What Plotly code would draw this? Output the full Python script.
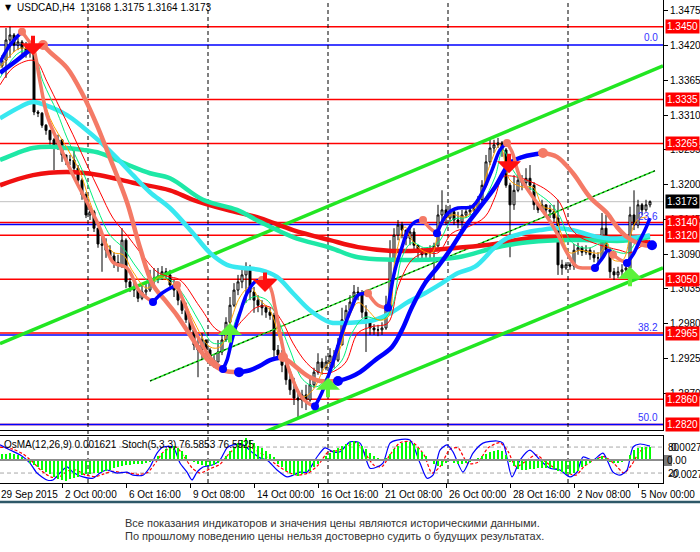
import plotly.graph_objects as go

W, H = 700, 552
PLOT_R = 663  # right edge of the chart panels, px


def px(x):
    return x / W


def py(y):
    return 1 - y / H


# ---- H4 candles (bar index, OHLC) ----
bars = list(range(1, 164))
opens = [1.3388, 1.3397, 1.3429, 1.3437, 1.3421, 1.3426, 1.3416, 1.3410, 1.3413, 1.3315,
         1.3313, 1.3294, 1.3286, 1.3271, 1.3258, 1.3271, 1.3247, 1.3239, 1.3239, 1.3226,
         1.3207, 1.3184, 1.3152, 1.3157, 1.3131, 1.3106, 1.3104, 1.3096, 1.3087, 1.3077,
         1.3073, 1.3112, 1.3046, 1.3038, 1.3033, 1.3020, 1.3030, 1.3033, 1.3049, 1.3052,
         1.3055, 1.3062, 1.3057, 1.3041, 1.3033, 1.3017, 1.3001, 1.2986, 1.2970, 1.2946,
         1.2938, 1.2954, 1.2938, 1.2922, 1.2919, 1.2935, 1.2954, 1.2982, 1.3009, 1.3033,
         1.3046, 1.3057, 1.3068, 1.3030, 1.3017, 1.3009, 1.3005, 1.2998, 1.2993, 1.2938,
         1.2930, 1.2914, 1.2891, 1.2875, 1.2862, 1.2859, 1.2867, 1.2859, 1.2883, 1.2903,
         1.2919, 1.2910, 1.2919, 1.2929, 1.2922, 1.2946, 1.2986, 1.3001, 1.3014, 1.3030,
         1.3028, 1.2998, 1.2982, 1.2973, 1.2970, 1.2970, 1.2973, 1.3009, 1.3081, 1.3120,
         1.3136, 1.3128, 1.3115, 1.3125, 1.3104, 1.3093, 1.3089, 1.3092, 1.3096, 1.3103,
         1.3152, 1.3160, 1.3147, 1.3157, 1.3144, 1.3141, 1.3152, 1.3157, 1.3160, 1.3163,
         1.3176, 1.3199, 1.3236, 1.3258, 1.3263, 1.3266, 1.3255, 1.3199, 1.3168, 1.3191,
         1.3207, 1.3203, 1.3210, 1.3199, 1.3168, 1.3160, 1.3168, 1.3160, 1.3157, 1.3147,
         1.3073, 1.3068, 1.3073, 1.3071, 1.3096, 1.3100, 1.3093, 1.3096, 1.3089, 1.3084,
         1.3084, 1.3131, 1.3096, 1.3062, 1.3057, 1.3062, 1.3065, 1.3068, 1.3152, 1.3136,
         1.3168, 1.3160, 1.3168]
highs = [1.3405, 1.3448, 1.3450, 1.3440, 1.3432, 1.3429, 1.3426, 1.3421, 1.3416, 1.3318,
         1.3315, 1.3296, 1.3286, 1.3274, 1.3279, 1.3271, 1.3247, 1.3247, 1.3255, 1.3231,
         1.3210, 1.3188, 1.3163, 1.3160, 1.3131, 1.3120, 1.3115, 1.3104, 1.3093, 1.3089,
         1.3131, 1.3115, 1.3052, 1.3046, 1.3041, 1.3041, 1.3044, 1.3065, 1.3068, 1.3068,
         1.3071, 1.3068, 1.3065, 1.3049, 1.3036, 1.3025, 1.3013, 1.2990, 1.2970, 1.2957,
         1.2965, 1.2954, 1.2941, 1.2930, 1.2954, 1.2962, 1.2990, 1.3022, 1.3044, 1.3057,
         1.3068, 1.3077, 1.3073, 1.3038, 1.3025, 1.3017, 1.3009, 1.3005, 1.2997, 1.2946,
         1.2938, 1.2922, 1.2906, 1.2894, 1.2875, 1.2875, 1.2883, 1.2894, 1.2910, 1.2933,
         1.2925, 1.2929, 1.2941, 1.2938, 1.2957, 1.3005, 1.3009, 1.3025, 1.3041, 1.3038,
         1.3033, 1.3009, 1.2986, 1.2979, 1.2978, 1.2982, 1.3024, 1.3112, 1.3131, 1.3144,
         1.3141, 1.3128, 1.3136, 1.3131, 1.3104, 1.3100, 1.3100, 1.3104, 1.3108, 1.3168,
         1.3191, 1.3168, 1.3168, 1.3160, 1.3157, 1.3160, 1.3165, 1.3168, 1.3171, 1.3182,
         1.3207, 1.3247, 1.3271, 1.3271, 1.3274, 1.3269, 1.3258, 1.3203, 1.3215, 1.3223,
         1.3215, 1.3226, 1.3231, 1.3204, 1.3171, 1.3176, 1.3168, 1.3168, 1.3168, 1.3176,
         1.3081, 1.3077, 1.3077, 1.3106, 1.3108, 1.3103, 1.3104, 1.3100, 1.3096, 1.3093,
         1.3155, 1.3152, 1.3100, 1.3068, 1.3070, 1.3074, 1.3077, 1.3165, 1.3191, 1.3176,
         1.3171, 1.3176, 1.3175]
lows = [1.3385, 1.3369, 1.3401, 1.3410, 1.3413, 1.3405, 1.3401, 1.3401, 1.3310, 1.3307,
        1.3290, 1.3279, 1.3263, 1.3223, 1.3255, 1.3236, 1.3231, 1.3231, 1.3220, 1.3199,
        1.3176, 1.3147, 1.3144, 1.3125, 1.3100, 1.3062, 1.3084, 1.3081, 1.3068, 1.3062,
        1.3068, 1.3036, 1.3030, 1.3022, 1.3014, 1.3017, 1.3024, 1.3030, 1.3041, 1.3044,
        1.3049, 1.3049, 1.3033, 1.3022, 1.3009, 1.2995, 1.2981, 1.2962, 1.2938, 1.2895,
        1.2922, 1.2927, 1.2913, 1.2910, 1.2919, 1.2930, 1.2951, 1.2978, 1.3006, 1.3025,
        1.3036, 1.3013, 1.3017, 1.2997, 1.2998, 1.2993, 1.2989, 1.2986, 1.2927, 1.2922,
        1.2903, 1.2883, 1.2867, 1.2851, 1.2830, 1.2846, 1.2843, 1.2856, 1.2878, 1.2899,
        1.2899, 1.2906, 1.2911, 1.2910, 1.2919, 1.2946, 1.2978, 1.2998, 1.3009, 1.3017,
        1.2989, 1.2935, 1.2962, 1.2962, 1.2960, 1.2962, 1.2970, 1.3005, 1.3077, 1.3112,
        1.3115, 1.3104, 1.3104, 1.3096, 1.3084, 1.3081, 1.3084, 1.3081, 1.3049, 1.3100,
        1.3136, 1.3136, 1.3141, 1.3136, 1.3131, 1.3131, 1.3147, 1.3152, 1.3155, 1.3160,
        1.3172, 1.3196, 1.3231, 1.3250, 1.3258, 1.3244, 1.3195, 1.3085, 1.3160, 1.3188,
        1.3191, 1.3195, 1.3191, 1.3160, 1.3155, 1.3157, 1.3152, 1.3147, 1.3141, 1.3057,
        1.3057, 1.3065, 1.3065, 1.3065, 1.3089, 1.3087, 1.3089, 1.3081, 1.3077, 1.3077,
        1.3081, 1.3092, 1.3052, 1.3049, 1.3052, 1.3054, 1.3057, 1.3065, 1.3128, 1.3131,
        1.3152, 1.3157, 1.3164]
closes = [1.3397, 1.3429, 1.3437, 1.3421, 1.3426, 1.3416, 1.3410, 1.3413, 1.3315, 1.3313,
          1.3294, 1.3286, 1.3271, 1.3258, 1.3271, 1.3247, 1.3239, 1.3239, 1.3226, 1.3207,
          1.3184, 1.3152, 1.3157, 1.3131, 1.3106, 1.3104, 1.3096, 1.3087, 1.3077, 1.3073,
          1.3112, 1.3046, 1.3038, 1.3033, 1.3020, 1.3030, 1.3033, 1.3049, 1.3052, 1.3055,
          1.3062, 1.3057, 1.3041, 1.3033, 1.3017, 1.3001, 1.2986, 1.2970, 1.2946, 1.2938,
          1.2954, 1.2938, 1.2922, 1.2919, 1.2935, 1.2954, 1.2982, 1.3009, 1.3033, 1.3046,
          1.3057, 1.3068, 1.3030, 1.3017, 1.3009, 1.3005, 1.2998, 1.2993, 1.2938, 1.2930,
          1.2914, 1.2891, 1.2875, 1.2862, 1.2859, 1.2867, 1.2859, 1.2883, 1.2903, 1.2919,
          1.2910, 1.2919, 1.2929, 1.2922, 1.2946, 1.2986, 1.3001, 1.3014, 1.3030, 1.3028,
          1.2998, 1.2982, 1.2973, 1.2970, 1.2970, 1.2973, 1.3009, 1.3081, 1.3120, 1.3136,
          1.3128, 1.3115, 1.3125, 1.3104, 1.3093, 1.3089, 1.3092, 1.3096, 1.3103, 1.3152,
          1.3160, 1.3147, 1.3157, 1.3144, 1.3141, 1.3152, 1.3157, 1.3160, 1.3163, 1.3176,
          1.3199, 1.3236, 1.3258, 1.3263, 1.3266, 1.3255, 1.3199, 1.3168, 1.3191, 1.3207,
          1.3203, 1.3210, 1.3199, 1.3168, 1.3160, 1.3168, 1.3160, 1.3157, 1.3147, 1.3073,
          1.3068, 1.3073, 1.3071, 1.3096, 1.3100, 1.3093, 1.3096, 1.3089, 1.3084, 1.3084,
          1.3131, 1.3096, 1.3062, 1.3057, 1.3062, 1.3065, 1.3068, 1.3152, 1.3136, 1.3168,
          1.3160, 1.3168, 1.3173]

# ---- moving averages ----
ma_red_x = [0.5, 8.75, 17.25, 25.5, 33.75, 43, 48.75, 57.25, 65.5, 73.75, 83, 90, 98.5,
            106.75, 115, 124.25, 131.25, 139.75, 148, 156.25, 163]
ma_red_y = [1.3199, 1.3215, 1.3220, 1.3215, 1.3203, 1.3191, 1.3176, 1.3160, 1.3147, 1.3128,
            1.3112, 1.3101, 1.3095, 1.3096, 1.3100, 1.3106, 1.3114, 1.3117, 1.3117, 1.3114, 1.3108]

ma_cyan_x = [0.5, 5.5, 8.75, 13, 17.25, 21.25, 25.5, 29.75, 33.75, 38, 43, 48.75, 53, 57.25,
             61.25, 65.5, 69.75, 73.75, 78, 83, 86, 90, 94.25, 98.5, 102.5, 106.75, 111, 115,
             119.25, 124.25, 127.25, 131.25, 135.5, 139.75, 143.75, 148, 152.25, 156.25, 160.5, 163]
ma_cyan_y = [1.3305, 1.3323, 1.3331, 1.3323, 1.3310, 1.3291, 1.3268, 1.3242, 1.3215, 1.3188,
             1.3163, 1.3123, 1.3092, 1.3073, 1.3068, 1.3065, 1.3054, 1.3028, 1.3001, 1.2982,
             1.2981, 1.2982, 1.2986, 1.2998, 1.3014, 1.3028, 1.3044, 1.3060, 1.3070, 1.3101,
             1.3115, 1.3123, 1.3128, 1.3131, 1.3128, 1.3120, 1.3115, 1.3115, 1.3117, 1.3120]

ma_teal_x = [0.5, 4.75, 8.75, 13, 17.25, 21.25, 25.5, 29.75, 33.75, 38, 43, 51.25, 59.75,
             65.5, 73.75, 83, 90, 98.5, 106.75, 115, 124.25, 131.25, 139.75, 148, 156.25, 163]
ma_teal_y = [1.3239, 1.3250, 1.3258, 1.3260, 1.3258, 1.3255, 1.3250, 1.3239, 1.3228, 1.3218,
             1.3210, 1.3176, 1.3160, 1.3141, 1.3117, 1.3100, 1.3085, 1.3081, 1.3081, 1.3085,
             1.3100, 1.3108, 1.3112, 1.3112, 1.3111, 1.3117]

orange_x = [0.5, 5.5, 8.75, 10.5, 13, 17.25, 20.5, 23, 25.5, 28.75, 31.25, 33.75, 37.25, 40.5,
            45.5, 48.75, 53, 55.5, 58, 60.5, 63, 65.5, 68, 70.5, 73.75, 76.25, 78.75, 81.75, 85,
            87.5, 90, 92.5, 95, 97.5, 99.25, 101.75, 103.5, 106, 108.5, 110.5, 113.5, 116.75,
            120, 122.5, 125.5, 128, 131.25, 133.75, 136.25, 138.75, 140.5, 143, 145.5, 148,
            150.5, 152.25, 153.75, 156.25, 158, 159.75, 162.25]
orange_y = [1.3385, 1.3416, 1.3408, 1.3363, 1.3305, 1.3258, 1.3220, 1.3172, 1.3131, 1.3093,
            1.3089, 1.3062, 1.3036, 1.3054, 1.3028, 1.2986, 1.2943, 1.2943, 1.2981, 1.3022,
            1.3038, 1.3017, 1.3001, 1.2954, 1.2895, 1.2864, 1.2875, 1.2911, 1.2933, 1.2986,
            1.3013, 1.3001, 1.2986, 1.2990, 1.3081, 1.3133, 1.3112, 1.3096, 1.3092, 1.3133,
            1.3152, 1.3149, 1.3171, 1.3223, 1.3263, 1.3207, 1.3196, 1.3196, 1.3165, 1.3160,
            1.3128, 1.3092, 1.3096, 1.3093, 1.3092, 1.3108, 1.3081, 1.3081, 1.3117, 1.3144, 1.3149]

green_x = [0.5, 5.5, 8.75, 11.25, 14.75, 17.25, 21.25, 24.75, 28, 31.25, 34.75, 38, 42.25,
           45.5, 50.5, 53.75, 57.25, 60.5, 63.75, 67.25, 69.75, 73, 76.25, 79.75, 83, 86, 88.5,
           91.75, 96, 98.5, 101, 103.5, 106.75, 110, 113.5, 117.5, 121, 124.25, 126.25, 128.75,
           131.25, 134.75, 138, 140.5, 143, 145.5, 148, 151.25, 153.75, 157.25, 159.75, 162.25]
green_y = [1.3369, 1.3410, 1.3408, 1.3363, 1.3315, 1.3274, 1.3220, 1.3163, 1.3120, 1.3100,
           1.3068, 1.3046, 1.3052, 1.3033, 1.2981, 1.2949, 1.2954, 1.3001, 1.3022, 1.3017,
           1.2990, 1.2938, 1.2891, 1.2880, 1.2902, 1.2922, 1.2965, 1.2990, 1.2986, 1.3006,
           1.3085, 1.3108, 1.3100, 1.3108, 1.3144, 1.3149, 1.3171, 1.3212, 1.3255, 1.3223,
           1.3203, 1.3187, 1.3171, 1.3149, 1.3112, 1.3101, 1.3100, 1.3108, 1.3096, 1.3092,
           1.3112, 1.3133]

redthin_x = [0.5, 3.75, 8, 9.75, 12.25, 15.5, 18.75, 22.25, 25.5, 28.75, 32.25, 35.5, 39.75,
             42.25, 45.5, 50.5, 54.75, 58, 61.25, 64.75, 68, 71.25, 73.75, 77.25, 80.5, 83,
             86.75, 90, 93.5, 97.5, 100, 103.5, 106.75, 110, 113.5, 117.5, 121.75, 124.25,
             126.25, 129.75, 133.75, 137.25, 140.5, 143, 145.5, 148.75, 152.25, 155.5, 158,
             160.5, 163]
redthin_y = [1.3358, 1.3385, 1.3397, 1.3394, 1.3363, 1.3321, 1.3279, 1.3231, 1.3188, 1.3147,
             1.3120, 1.3093, 1.3062, 1.3055, 1.3049, 1.3006, 1.2970, 1.2965, 1.2986, 1.3006,
             1.3006, 1.2981, 1.2949, 1.2917, 1.2902, 1.2902, 1.2917, 1.2965, 1.2975, 1.2981,
             1.3038, 1.3081, 1.3092, 1.3092, 1.3123, 1.3133, 1.3149, 1.3180, 1.3212, 1.3212,
             1.3203, 1.3191, 1.3171, 1.3133, 1.3117, 1.3108, 1.3101, 1.3096, 1.3092, 1.3101, 1.3112]

# two-colour trend lines: (trend, bars, prices)
fast_segments = [
    ("up", [0.5, 3, 6], [1.3394, 1.3421, 1.3442]),
    ("down", [6, 7.5, 8.75, 10.5, 12.25, 14.75, 18.75, 22.25, 25.5, 28.75, 32.25, 35.5, 38.75],
     [1.3442, 1.3429, 1.3418, 1.3363, 1.3310, 1.3271, 1.3215, 1.3172, 1.3131, 1.3077, 1.3068, 1.3030, 1.3014]),
    ("up", [38.75, 41, 43, 44.75], [1.3014, 1.3028, 1.3036, 1.3041]),
    ("down", [44.75, 46.75, 48.75, 53, 56.25], [1.3041, 1.3009, 1.2975, 1.2927, 1.2908]),
    ("up", [56.25, 57.25, 58.5, 60.5, 62.25, 64.25, 66], [1.2908, 1.2922, 1.2954, 1.2997, 1.3028, 1.3046, 1.3049]),
    ("down", [66, 68, 69.25, 70.5, 71.75, 73.5, 75.5, 77.5, 79.25],
     [1.3049, 1.3038, 1.3006, 1.2965, 1.2927, 1.2894, 1.2867, 1.2854, 1.2849]),
    ("up", [79.25, 80.5, 81.75, 83.5, 86, 88.5, 90, 92.5], [1.2849, 1.2864, 1.2883, 1.2914, 1.2965, 1.3006, 1.3025, 1.3028]),
    ("down", [92.5, 95, 97.5], [1.3028, 1.3009, 1.3005]),
    ("up", [97.5, 99.25, 101, 102.5, 104.25, 106.25], [1.3005, 1.3065, 1.3101, 1.3128, 1.3141, 1.3144]),
    ("down", [106.25, 108, 109.75], [1.3144, 1.3131, 1.3123]),
    ("up", [109.75, 112.5, 115, 118.5, 121, 123.5, 125.5, 127.25],
     [1.3123, 1.3155, 1.3163, 1.3165, 1.3187, 1.3223, 1.3255, 1.3266]),
    ("down", [127.25, 128.5, 130.5, 133.75, 137.25, 139.75, 142.25, 144.75, 148, 149.25],
     [1.3266, 1.3252, 1.3212, 1.3180, 1.3149, 1.3123, 1.3092, 1.3070, 1.3068, 1.3068]),
    ("up", [149.25, 151.25, 152.5, 153.75], [1.3068, 1.3085, 1.3096, 1.3089]),
    ("down", [153.75, 155.5, 157.25], [1.3089, 1.3081, 1.3076]),
    ("up", [157.25, 158.75, 160.5, 161.75, 163], [1.3076, 1.3089, 1.3112, 1.3128, 1.3147]),
]
slow_segments = [
    ("up", [0.5, 4.75, 8.75, 11.25], [1.3377, 1.3397, 1.3416, 1.3421]),
    ("down", [11.25, 13, 17.25, 21.25, 24.75, 28, 32.25, 35.5, 38.75, 41.75, 44.75, 48, 50.5, 53, 56.25, 60.25],
     [1.3421, 1.3410, 1.3385, 1.3342, 1.3294, 1.3242, 1.3172, 1.3100, 1.3041, 1.3017, 1.2993,
      1.2962, 1.2938, 1.2919, 1.2906, 1.2903]),
    ("up", [60.25, 63, 65.5, 68, 71.25], [1.2903, 1.2906, 1.2913, 1.2922, 1.2927]),
    ("down", [71.25, 73, 75.5, 78, 80.5, 85], [1.2927, 1.2919, 1.2906, 1.2895, 1.2889, 1.2889]),
    ("up", [85, 88, 90.5, 94.25, 98.5, 101, 103.5, 106.75, 110, 113.5, 116.75, 120, 124.25, 128,
            131.25, 134.25, 136.25],
     [1.2889, 1.2895, 1.2903, 1.2922, 1.2943, 1.2970, 1.3006, 1.3044, 1.3070, 1.3101, 1.3133,
      1.3160, 1.3196, 1.3234, 1.3244, 1.3248, 1.3250]),
    ("down", [136.25, 139.75, 143.75, 148, 152.25, 154.75, 157.25, 159.75, 161.75, 163.5],
     [1.3250, 1.3244, 1.3218, 1.3180, 1.3155, 1.3133, 1.3117, 1.3108, 1.3104, 1.3104]),
    ("up", [163.5], [1.3104]),
]

# signal arrows (tip position)
sell_x = [8.75, 66.75, 127.75]
sell_y = [1.3405, 1.3030, 1.3218]
buy_x = [58, 82.5, 158]
buy_y = [1.2981, 1.2894, 1.3070]

# channel (two anchor points each)
chan_upper_x, chan_upper_y = [0.5, 166.25], [1.2948, 1.3388]
chan_lower_x, chan_lower_y = [64.25, 166.25], [1.2802, 1.3068]
chan_mid_x, chan_mid_y = [38, 164.25], [1.2889, 1.3222]

# horizontal levels
red_levels = [1.3450, 1.3335, 1.3265, 1.3140, 1.3120, 1.3050, 1.2965, 1.2860, 1.2820]
fib_levels = [1.3421, 1.3137, 1.2962, 1.2820]
fib_labels = ["0.0", "23.6", "38.2", "50.0"]
last_price = 1.3173
ytick_vals = [1.2870, 1.2925, 1.2980, 1.3035, 1.3090, 1.3145, 1.3200, 1.3255, 1.3310, 1.3365, 1.3420, 1.3475]

# time axis
label_bars = [0.5, 16, 32, 48, 64, 80, 96, 112, 128, 144, 160]
label_text = ["29 Sep 2015", "2 Oct 00:00", "6 Oct 16:00", "9 Oct 08:00", "14 Oct 00:00",
              "16 Oct 16:00", "21 Oct 08:00", "26 Oct 00:00", "28 Oct 16:00", "2 Nov 08:00", "5 Nov 00:00"]
grid_bars = [22.5, 52.5, 82.5, 112.5, 142.5]

# ---- OsMA(12,26,9) histogram and Stoch(5,3,3) ----
osma = [0.0012, 0.0013, 0.0014, 0.0013, 0.0010, 0.0006, -0.0002, -0.0006, -0.0010, -0.0015,
        -0.0020, -0.0025, -0.0030, -0.0035, -0.0040, -0.0042, -0.0043, -0.0040, -0.0038, -0.0035,
        -0.0032, -0.0030, -0.0030, -0.0028, -0.0027, -0.0025, -0.0022, -0.0020, -0.0017, -0.0015,
        -0.0012, -0.0010, -0.0010, -0.0009, -0.0008, -0.0008, -0.0007, -0.0005, 0.0002, 0.0008,
        0.0015, 0.0022, 0.0028, 0.0030, 0.0025, 0.0018, 0.0010, 0.0002, -0.0005, -0.0008,
        -0.0010, -0.0012, -0.0012, -0.0010, -0.0006, 0.0000, 0.0008, 0.0018, 0.0028, 0.0036,
        0.0042, 0.0045, 0.0042, 0.0035, 0.0030, 0.0025, 0.0018, 0.0012, 0.0006, -0.0008,
        -0.0015, -0.0022, -0.0028, -0.0032, -0.0034, -0.0030, -0.0026, -0.0022, -0.0015, -0.0008,
        0.0002, 0.0008, 0.0014, 0.0020, 0.0025, 0.0030, 0.0034, 0.0038, 0.0040, 0.0038,
        0.0030, 0.0022, 0.0014, 0.0008, 0.0004, 0.0002, 0.0003, 0.0012, 0.0022, 0.0030,
        0.0036, 0.0038, 0.0038, 0.0033, 0.0025, 0.0016, 0.0008, 0.0000, -0.0008, -0.0012,
        -0.0012, -0.0006, -0.0002, -0.0006, -0.0008, -0.0008, -0.0006, -0.0004, -0.0002, 0.0003,
        0.0008, 0.0012, 0.0016, 0.0019, 0.0020, 0.0018, 0.0010, -0.0005, -0.0012, -0.0018,
        -0.0020, -0.0020, -0.0018, -0.0018, -0.0016, -0.0016, -0.0016, -0.0017, -0.0018, -0.0022,
        -0.0026, -0.0030, -0.0030, -0.0028, -0.0022, -0.0015, -0.0010, -0.0006, -0.0002, 0.0004,
        0.0008, 0.0004, -0.0003, -0.0006, -0.0006, -0.0004, 0.0000, 0.0010, 0.0020, 0.0026,
        0.0028, 0.0028, 0.0027]

stoch_x = [0.5, 3, 5.5, 8, 9.75, 12.25, 13.75, 15.5, 17.25, 18.75, 21.25, 23.75, 25.5, 27.25,
           29.75, 32.25, 33.75, 36.25, 38, 39.75, 41.25, 43.75, 45.5, 47.25, 48.5, 49.75, 51.25,
           53.75, 55.5, 57.25, 58.75, 61.25, 63.75, 65.5, 67.25, 69.75, 72.25, 73.75, 75.5, 77.25,
           79.75, 81.75, 83.75, 85.5, 88, 90.5, 93, 94.75, 96.25, 98, 99.75, 103, 105.5, 107.25,
           108.75, 110.5, 112.25, 113.75, 116.25, 118.75, 121.25, 124.75, 126.25, 128.5, 130.5,
           133, 135.5, 138, 140.5, 143, 144.75, 146.25, 148.75, 151.25, 153.75, 155.5, 157.25,
           158.75, 160.5, 163]
stoch_main = [85, 73, 62, 43, 20, 4, 4, 20, 34, 22, 11, 8, 20, 27, 20, 22, 15, 15, 34, 66,
              80, 80, 43, 22, 4, 22, 34, 39, 50, 78, 85, 85, 66, 55, 50, 27, 11, 15, 22, 22,
              57, 78, 69, 69, 92, 89, 31, 34, 43, 89, 96, 96, 43, 8, 15, 73, 85, 69, 22, 66,
              89, 94, 89, 11, 50, 73, 50, 31, 27, 11, 22, 57, 50, 66, 22, 15, 27, 80, 87, 82]
signal_x = [0.5, 3.75, 6.25, 8.75, 11, 13.5, 15.5, 17.5, 19.5, 22, 24.5, 26.5, 28.5, 30.5, 33,
            35.5, 37.5, 39.5, 41.5, 44.5, 46.5, 48.5, 50.5, 53, 55.5, 57.5, 60, 62.5, 65, 67,
            69.5, 72.5, 75, 77.5, 80, 82.5, 85, 87, 89.5, 92, 94, 96, 98, 100.5, 103.5, 106.5,
            108.5, 110.5, 113, 115, 117.5, 120, 122.5, 125.5, 127.5, 129.5, 132, 134.5, 137,
            139.5, 142, 144.5, 146.5, 149, 151.5, 154, 156.5, 158.5, 160.5, 163]
stoch_signal = [80, 75, 64, 45, 24, 10, 12, 25, 27, 15, 12, 18, 24, 22, 20, 17, 22, 45, 70, 80,
                58, 32, 20, 30, 40, 62, 82, 82, 70, 58, 40, 22, 15, 20, 38, 68, 72, 80, 90, 62,
                38, 35, 62, 90, 92, 62, 20, 35, 75, 78, 42, 45, 78, 90, 70, 35, 48, 62, 45, 30,
                22, 15, 35, 50, 58, 42, 20, 40, 70, 80]

TREND_COLORS = {"up": "#0000FF", "down": "#F47A66"}
FONT = "Liberation Sans"

fig = go.Figure()

# channel
for cx, cy in [(chan_upper_x, chan_upper_y), (chan_lower_x, chan_lower_y)]:
    fig.add_trace(go.Scatter(x=cx, y=cy, mode="lines", line=dict(color="#22E622", width=3.5),
                             hoverinfo="skip"))
fig.add_trace(go.Scatter(x=chan_mid_x, y=chan_mid_y, mode="lines", line=dict(color="#22E622", width=1.5),
                         hoverinfo="skip"))
fig.add_trace(go.Scatter(x=chan_mid_x, y=chan_mid_y, mode="lines",
                         line=dict(color="black", width=1, dash="2px,3px"), hoverinfo="skip"))

fig.add_trace(go.Candlestick(
    x=bars, open=opens, high=highs, low=lows, close=closes,
    increasing=dict(line=dict(color="black", width=1), fillcolor="white"),
    decreasing=dict(line=dict(color="black", width=1), fillcolor="black"),
    whiskerwidth=0, hoverinfo="skip"))

# thick MAs
for mx, my, col in [(ma_red_x, ma_red_y, "#F01010"), (ma_teal_x, ma_teal_y, "#1EE8A6"),
                    (ma_cyan_x, ma_cyan_y, "#38E8F0")]:
    fig.add_trace(go.Scatter(x=mx, y=my, mode="lines", line=dict(color=col, width=4.5, shape="spline"),
                             hoverinfo="skip"))
# thin MAs
for mx, my, col in [(redthin_x, redthin_y, "#FF0000"), (green_x, green_y, "#00F07A"),
                    (orange_x, orange_y, "#FFA000")]:
    fig.add_trace(go.Scatter(x=mx, y=my, mode="lines", line=dict(color=col, width=1, shape="spline"),
                             hoverinfo="skip"))

# trend lines with turn dots
for segs, lw, dot in [(slow_segments, 4.5, 10), (fast_segments, 3.5, 8)]:
    for trend, sx, sy in segs:
        if len(sx) > 1:
            fig.add_trace(go.Scatter(x=sx, y=sy, mode="lines",
                                     line=dict(color=TREND_COLORS[trend], width=lw, shape="spline"),
                                     hoverinfo="skip"))
    for trend, sx, sy in segs[1:]:
        fig.add_trace(go.Scatter(x=[sx[0]], y=[sy[0]], mode="markers",
                                 marker=dict(color=TREND_COLORS[trend], size=dot), hoverinfo="skip"))

# indicator panel
fig.add_trace(go.Bar(x=bars, y=osma, xaxis="x2", yaxis="y3", marker=dict(color="#00FF00", line=dict(width=0)),
                     width=0.6, hoverinfo="skip"))
fig.add_trace(go.Scatter(x=signal_x, y=stoch_signal, xaxis="x2", yaxis="y2", mode="lines",
                         line=dict(color="#FF0000", width=1.2, dash="3px,2px", shape="spline", smoothing=0.7),
                         hoverinfo="skip"))
fig.add_trace(go.Scatter(x=stoch_x, y=stoch_main, xaxis="x2", yaxis="y2", mode="lines",
                         line=dict(color="#0000FF", width=1.2, shape="spline", smoothing=0.7),
                         hoverinfo="skip"))

shapes = []
for lv in red_levels:
    shapes.append(dict(type="line", xref="paper", yref="y", x0=0, x1=px(PLOT_R), y0=lv, y1=lv,
                       line=dict(color="#FF0000", width=1.5), layer="below"))
for lv in fib_levels:
    shapes.append(dict(type="line", xref="paper", yref="y", x0=0, x1=px(PLOT_R), y0=lv, y1=lv,
                       line=dict(color="#0000FF", width=1.5), layer="below"))
shapes.append(dict(type="line", xref="paper", yref="y", x0=0, x1=px(PLOT_R), y0=last_price, y1=last_price,
                   line=dict(color="#C0C0C0", width=1), layer="below"))
for gb in grid_bars:
    shapes.append(dict(type="line", xref="x", yref="paper", x0=gb, x1=gb, y0=py(483), y1=1,
                       line=dict(color="black", width=1, dash="4px,3px"), layer="below"))
for lv in [80, 20]:
    shapes.append(dict(type="line", xref="paper", yref="y2", x0=0, x1=px(PLOT_R), y0=lv, y1=lv,
                       line=dict(color="#A8A8A8", width=1, dash="4px,3px"), layer="below"))
shapes.append(dict(type="line", xref="paper", yref="y3", x0=0, x1=px(PLOT_R), y0=0, y1=0,
                   line=dict(color="#8C8C8C", width=2)))
shapes.append(dict(type="line", xref="paper", yref="paper", x0=0, x1=1, y0=py(502), y1=py(502),
                   line=dict(color="#2E5868", width=2.5)))
shapes.append(dict(type="rect", xref="paper", yref="paper", x0=px(664), x1=px(672), y0=py(466), y1=py(455),
                   fillcolor="#7A7A7A", line=dict(width=0)))


def label(x, y, text, xref="paper", yref="paper", **kw):
    d = dict(x=x, y=y, xref=xref, yref=yref, text=text, showarrow=False, xanchor="left", yanchor="middle")
    d.update(kw)
    return d


ann = []
ann.append(label(px(3), py(8), "▼", font=dict(family="DejaVu Sans", size=8, color="black")))
ann.append(label(px(15), py(8), "USDCAD,H4  1.3168 1.3175 1.3164 1.3173"))
for lv in red_levels:
    ann.append(label(px(665), lv, "%.4f" % lv, yref="y", bgcolor="#FF0000", borderpad=1,
                     font=dict(color="white", size=10)))
ann.append(label(px(665), last_price, "%.4f" % last_price, yref="y", bgcolor="black", borderpad=1,
                 font=dict(color="white", size=10)))
for lv, lb in zip(fib_levels, fib_labels):
    ann.append(label(px(660), lv, lb, yref="y", xanchor="right", yanchor="bottom",
                     font=dict(color="#3333FF", size=10)))
# MT4-style thick arrows: short shaft with a wide head
for sx, sy in zip(sell_x, sell_y):
    ann.append(dict(x=sx, y=sy, xref="x", yref="y", text="", showarrow=True, arrowhead=1, arrowsize=1.0,
                    arrowwidth=4, arrowcolor="#FF1010", ax=0, ay=-21))
for bx, by in zip(buy_x, buy_y):
    ann.append(dict(x=bx, y=by, xref="x", yref="y", text="", showarrow=True, arrowhead=1, arrowsize=1.0,
                    arrowwidth=4, arrowcolor="#5CF23A", ax=0, ay=21))
for lb_bar, lb in zip(label_bars, label_text):
    ann.append(label(lb_bar, py(494), lb, xref="x2", xshift=1 if lb_bar > 1 else -1))
ann.append(label(px(2), py(444), "OsMA(12,26,9) 0.001621  Stoch(5,3,3) 76.5853 76.5525"))
for txt, xx, yy in [("80", 666, 447), ("0.002721", 669, 447), ("0.00", 665, 460),
                    ("20", 666, 473), ("-0.002772", 667, 474)]:
    ann.append(label(px(xx), py(yy), txt))
ann.append(label(px(123), py(523), "Все показания индикаторов и значения цены являются историческими данными.",
                 font=dict(size=11, color="#333333")))
ann.append(label(px(123), py(536), "По прошлому поведению цены нельзя достоверно судить о будущих результатах.",
                 font=dict(size=11, color="#333333")))

fig.update_layout(
    width=W, height=H, margin=dict(l=0, r=0, t=0, b=0),
    paper_bgcolor="white", plot_bgcolor="white", showlegend=False,
    font=dict(family=FONT, size=10, color="black"),
    shapes=shapes, annotations=ann, bargap=0,
    xaxis=dict(domain=[0, px(PLOT_R)], range=[0.5, 166.25], anchor="y", showgrid=False, zeroline=False,
               showticklabels=False, showline=True, linecolor="black", linewidth=1,
               rangeslider=dict(visible=False)),
    yaxis=dict(domain=[py(430), 1], range=[1.28114, 1.34924], side="right", anchor="x",
               tickvals=ytick_vals, tickformat=".4f", ticks="outside", ticklen=4, tickcolor="black",
               showline=True, linecolor="black", showgrid=False, zeroline=False),
    xaxis2=dict(domain=[0, px(PLOT_R)], range=[0.5, 166.25], anchor="y2", showgrid=False, zeroline=False,
                showticklabels=False, tickvals=label_bars[1:], ticks="outside", ticklen=4, tickcolor="black",
                showline=True, mirror=True, linecolor="black"),
    yaxis2=dict(domain=[py(483), py(436)], range=[-3, 105.5], side="right", anchor="x2", showline=True,
                linecolor="black", showgrid=False, zeroline=False, showticklabels=False),
    yaxis3=dict(overlaying="y2", anchor="x2", range=[-0.00481, 0.00502], visible=False),
)

# the page's default body margin would push the 700x552 figure off the window
fig.write_html("out.html", config={"displayModeBar": False},
               post_script="document.body.style.margin='0';document.body.style.overflow='hidden';")
